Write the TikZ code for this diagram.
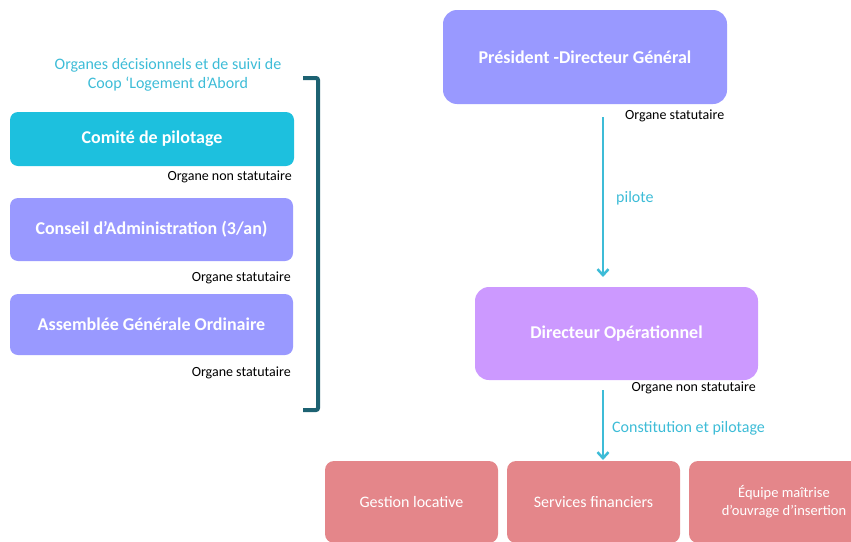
\documentclass[tikz,border=0pt]{standalone}
\usepackage{fontspec}
\setmainfont{Carlito}
\usepackage{tikz}
\usetikzlibrary{positioning,arrows.meta}
\definecolor{cCyan}  {HTML}{1DC0DE}
\definecolor{cLav}   {HTML}{9999FF}
\definecolor{cMauve} {HTML}{CC99FF}
\definecolor{cRose}  {HTML}{E4868A}
\definecolor{cLink}  {HTML}{3DBCD7}
\definecolor{cTeal}  {HTML}{1D6272}

\begin{document}
\begin{tikzpicture}[x=1pt,y=-1pt,
    box/.style={rectangle,rounded corners=8pt,inner sep=0pt,text=white,align=center,
      font=\fontsize{18}{21}\selectfont\bfseries},
    unit/.style={rectangle,rounded corners=9pt,fill=cRose,inner sep=0pt,text=white,
      align=center,minimum width=173pt,minimum height=82pt,font=\fontsize{16}{19}\selectfont},
    tag/.style={inner sep=0pt,font=\fontsize{14}{16}\selectfont},
    link/.style={draw=cLink,line width=2.5pt,-{Straight Barb[length=6pt,width=11pt]}},
    linklabel/.style={inner sep=0pt,text=cLink,font=\fontsize{16}{19}\selectfont,anchor=west}]
  \useasboundingbox (0,0) rectangle (851,541);
  \clip (0,0) rectangle (851,541);
  % left column: governance bodies
  \node[text=cLink,align=center,font=\fontsize{16}{19}\selectfont] (title) at (168,75)
    {Organes décisionnels et de suivi de\\Coop ‘Logement d’Abord};
  \node[box,fill=cCyan,minimum width=284pt,minimum height=54pt] (copil) at (152,139) {Comité de pilotage};
  \node[tag,anchor=east] (copiltag) at (292,177) {Organe non statutaire};
  \node[box,fill=cLav,minimum width=283pt,minimum height=63pt] (ca) at (151.5,229.5) {Conseil d’Administration (3/an)};
  \node[tag,anchor=east] (catag) at (291,278) {Organe statutaire};
  \node[box,fill=cLav,minimum width=283pt,minimum height=61pt] (ago) at (151.5,324.5) {Assemblée Générale Ordinaire};
  \node[tag,anchor=east] (agotag) at (291,373) {Organe statutaire};
  \draw[cTeal,line width=4pt,rounded corners=2pt] (303,78) -- (318,78) -- (318,410) -- (303,410); % bracket
  % right column: management
  \node[box,fill=cLav,rounded corners=14pt,minimum width=284pt,minimum height=94pt] (pdg) at (585,57) {Président -Directeur Général};
  \node[tag,anchor=west] (pdgtag) at (625,116) {Organe statutaire};
  \node[box,fill=cMauve,rounded corners=14pt,minimum width=283pt,minimum height=93pt] (dirop) at (616.5,333.5) {Directeur Opérationnel};
  \node[tag,anchor=east] (diroptag) at (756,388) {Organe non statutaire};
  \node[unit] (gestion) at (411.5,502) {Gestion locative};
  \node[unit] (finance) at (593.5,502) {Services financiers};
  \node[unit,minimum width=190pt,font=\fontsize{14.5}{18}\selectfont] (moi) at (784,502) {Équipe maîtrise\\d’ouvrage d’insertion};
  % connectors
  \coordinate (a1) at (603,117);
  \coordinate (a2) at (603,277);
  \coordinate (b1) at (603,390);
  \coordinate (b2) at (603,460);
  \draw[link] (a1) -- (a2);
  \node[linklabel] (pilote) at (616,198) {pilote};
  \draw[link] (b1) -- (b2);
  \node[linklabel] (constit) at (612,428) {Constitution et pilotage};
\end{tikzpicture}
\end{document}
